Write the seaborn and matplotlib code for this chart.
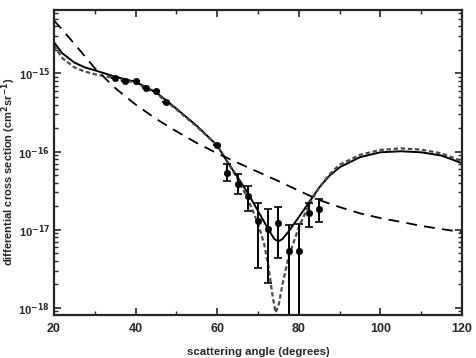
import numpy as np
import pandas as pd
import seaborn as sns
from matplotlib import pyplot as plt
from matplotlib.ticker import FixedLocator, LogLocator, NullFormatter

# model curves
angle_full = [20, 22, 25, 27.5, 30, 35, 40, 45, 50, 55, 60, 62.5, 65, 67.5, 70,
              72.5, 74, 75, 76, 77.5, 80, 82.5, 85, 87.5, 90, 95, 100, 105, 110, 115, 120]
full_calc = [2.51e-15, 1.82e-15, 1.38e-15, 1.20e-15, 1.10e-15, 9.1e-16, 7.8e-16, 5.75e-16,
             3.55e-16, 2.14e-16, 1.20e-16, 7.4e-17, 4.7e-17, 2.95e-17, 1.74e-17,
             1.02e-17, 7.6e-18, 7.1e-18, 7.6e-18, 9.5e-18, 1.45e-17, 2.24e-17, 3.47e-17,
             4.9e-17, 6.3e-17, 8.5e-17, 9.8e-17, 1.01e-16, 9.8e-17, 8.9e-17, 7.1e-17]

angle_dot = [20, 22, 25, 27.5, 30, 35, 40, 45, 50, 55, 60, 62.5, 65, 67.5, 70, 71.5,
             72.5, 73.5, 74.3, 75, 76, 77.5, 80, 82.5, 85, 87.5, 90, 95, 100, 105, 110, 115, 120]
dot_calc = [2.29e-15, 1.58e-15, 1.20e-15, 1.06e-15, 9.8e-16, 8.7e-16, 7.6e-16, 5.6e-16,
            3.47e-16, 2.09e-16, 1.20e-16, 7.4e-17, 4.5e-17, 2.5e-17, 1.2e-17, 6.6e-18,
            3.55e-18, 1.51e-18, 8.7e-19, 1.05e-18, 2.0e-18, 4.5e-18, 1.07e-17, 2.1e-17,
            3.47e-17, 5.1e-17, 6.8e-17, 9.1e-17, 1.05e-16, 1.10e-16, 1.06e-16, 9.5e-17, 7.6e-17]

angle_dash = [20, 25, 30, 35, 40, 45, 50, 55, 60, 65, 70, 75, 80, 85, 90, 95, 100,
              105, 110, 115, 120]
dash_calc = [4.8e-15, 2.4e-15, 1.17e-15, 6.5e-16, 4.0e-16, 2.63e-16, 1.82e-16, 1.29e-16,
             9.5e-17, 7.2e-17, 5.5e-17, 4.2e-17, 3.16e-17, 2.4e-17, 1.95e-17, 1.62e-17,
             1.41e-17, 1.26e-17, 1.12e-17, 1.02e-17, 9.3e-18]

# measured points with error bar ends
angle_exp = [35, 37.5, 40, 42.5, 45, 47.5, 60, 62.5, 65, 67.5, 70, 72.5, 75, 77.5, 80, 82.5, 85]
sigma_exp = [8.8e-16, 7.9e-16, 7.9e-16, 6.5e-16, 6.0e-16, 4.3e-16, 1.23e-16, 5.3e-17,
             3.9e-17, 2.7e-17, 1.29e-17, 1.03e-17, 1.21e-17, 5.3e-18, 5.3e-18, 1.63e-17, 1.86e-17]
err_lo = [8.8e-16, 7.9e-16, 7.9e-16, 6.5e-16, 6.0e-16, 4.3e-16, 1.23e-16, 4.25e-17,
          2.9e-17, 1.75e-17, 3.26e-18, 2.1e-18, 4.4e-18, 1e-20, 1e-20, 1.07e-17, 1.26e-17]
err_hi = [8.8e-16, 7.9e-16, 7.9e-16, 6.5e-16, 6.0e-16, 4.3e-16, 1.23e-16, 7.0e-17,
          5.2e-17, 3.66e-17, 2.2e-17, 1.83e-17, 1.97e-17, 1.14e-17, 1.17e-17, 2.2e-17, 2.45e-17]

sns.set_style("ticks")
plt.rcParams["font.family"] = ["Liberation Sans", "DejaVu Sans"]
plt.rcParams["font.weight"] = "bold"

fig = plt.figure(figsize=(4.76, 3.58), dpi=100)
ax = fig.add_axes([0.1134, 0.1201, 0.8572, 0.852])

sns.lineplot(x=angle_full, y=full_calc, ax=ax, color="black", lw=1.4, sort=False)
sns.lineplot(x=angle_dot, y=dot_calc, ax=ax, color="#4a4a4a", lw=1.6, sort=False)
ax.lines[-1].set_dashes((2, 1.2))
sns.lineplot(x=angle_dash, y=dash_calc, ax=ax, color="black", lw=1.3, sort=False)
ax.lines[-1].set_dashes((6, 4))

exp = pd.DataFrame({"angle": angle_exp, "sigma": sigma_exp, "lo": err_lo, "hi": err_hi})
ax.errorbar(exp["angle"], exp["sigma"],
            yerr=[exp["sigma"] - exp["lo"], exp["hi"] - exp["sigma"]],
            fmt="none", ecolor="black", elinewidth=1.4, capsize=3, capthick=1.2)
sns.scatterplot(data=exp, x="angle", y="sigma", ax=ax, color="black", s=22,
                edgecolor="black", zorder=5)

ax.set_yscale("log")
ax.set_xlim(20, 120)
ax.set_ylim(8.1e-19, 6.5e-15)

ax.xaxis.set_major_locator(FixedLocator([20, 40, 60, 80, 100, 120]))
ax.xaxis.set_minor_locator(FixedLocator([30, 50, 70, 90, 110]))
ax.yaxis.set_major_locator(FixedLocator([1e-18, 1e-17, 1e-16, 1e-15]))
ax.yaxis.set_minor_locator(LogLocator(base=10, subs=np.arange(2, 10), numticks=20))
ax.yaxis.set_minor_formatter(NullFormatter())
ax.set_yticklabels([r"10$^{\mathbf{-18}}$", r"10$^{\mathbf{-17}}$",
                    r"10$^{\mathbf{-16}}$", r"10$^{\mathbf{-15}}$"])

ax.tick_params(which="both", direction="in", top=True, right=True)
ax.tick_params(axis="x", labelsize=9, pad=6)
ax.tick_params(axis="y", labelsize=8, pad=3)
ax.tick_params(which="major", length=5, width=1.2)
ax.tick_params(which="minor", length=3, width=1)
for s in ax.spines.values():
    s.set_linewidth(1.6)
    s.set_visible(True)

ax.set_xlabel("scattering angle (degrees)", fontsize=8.2, fontweight="bold")
ax.xaxis.set_label_coords(0.5, -0.105)
ax.set_ylabel(r"differential cross section (cm$^{\mathbf{2}}$sr$^{\mathbf{-1}}$)",
              fontsize=8, fontweight="bold")
ax.yaxis.set_label_coords(-0.087, 0.47)

fig.savefig("out.png", dpi=100)
